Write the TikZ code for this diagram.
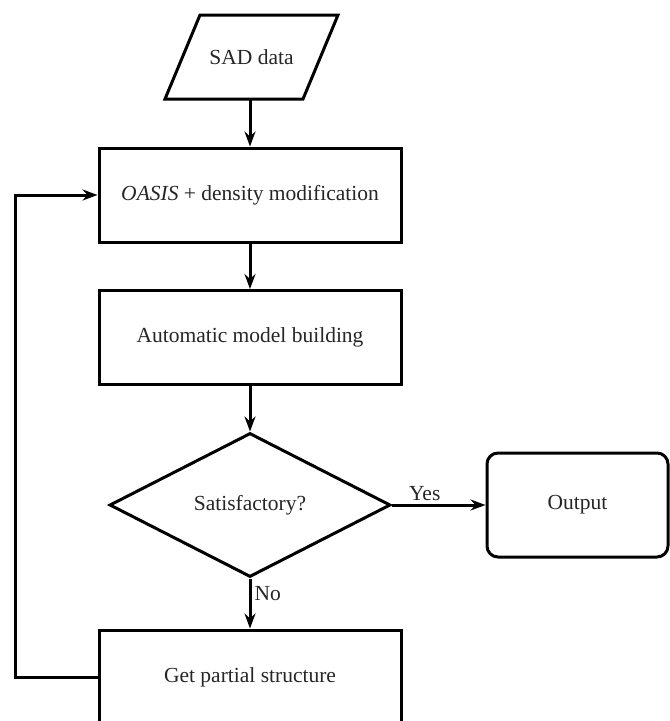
\documentclass[tikz,border=0pt]{standalone}
\usepackage{fontspec}
\setmainfont{Liberation Serif}
\usetikzlibrary{arrows.meta,shapes.geometric}
\begin{document}
\begin{tikzpicture}[x=1pt,y=-1pt,
  every node/.style={font=\fontsize{21.5}{25}\selectfont, text=black!85},
  boxnode/.style={draw=black, line width=3pt, rectangle, minimum width=302pt, minimum height=94pt, inner sep=0pt},
  decision/.style={draw=black, line width=3pt, diamond, minimum width=281pt, minimum height=144pt, aspect=1.95, inner sep=0pt},
  endnode/.style={draw=black, line width=3pt, rectangle, rounded corners=11pt, minimum width=181pt, minimum height=104pt, inner sep=0pt},
  arr/.style={draw=black, line width=3pt, -{Stealth[length=15pt,width=11pt,inset=5pt]}},
  lbl/.style={font=\fontsize{21.5}{25}\selectfont, inner sep=1pt}
]
\useasboundingbox (0,0) rectangle (670,721);
% parallelogram
\node (sad) at (251.5,57) [minimum width=138pt, minimum height=84pt, inner sep=0pt] {SAD data};
\draw[line width=3pt, line join=miter] (200,15) -- (338,15) -- (303,99) -- (165,99) -- cycle;
\coordinate (sadb) at (250,99);
\node[boxnode] (oasis) at (250,195) {\textit{OASIS} + density modification};
\node[boxnode] (amb) at (250,337.5) {Automatic model building};
\node[decision] (sat) at (250,505) {Satisfactory?};
\node[endnode] (out) at (577.5,505) {Output};
\node[boxnode] (gps) at (250,677) {Get partial structure};
\coordinate (lp) at (15,677);
\draw[arr] (sadb) -- (oasis.north);
\draw[arr] (oasis.south) -- (amb.north);
\draw[arr] (amb.south) -- (sat.north);
\draw[arr] (sat.east) -- node[lbl, above=2pt, pos=0.35] (yes) {Yes} (out.west);
\draw[arr] (sat.south) -- node[lbl, right=2pt, pos=0.3] (no) {No} (gps.north);
\draw[arr] (gps.west) -- (lp) |- (oasis.west);
\end{tikzpicture}
\end{document}
